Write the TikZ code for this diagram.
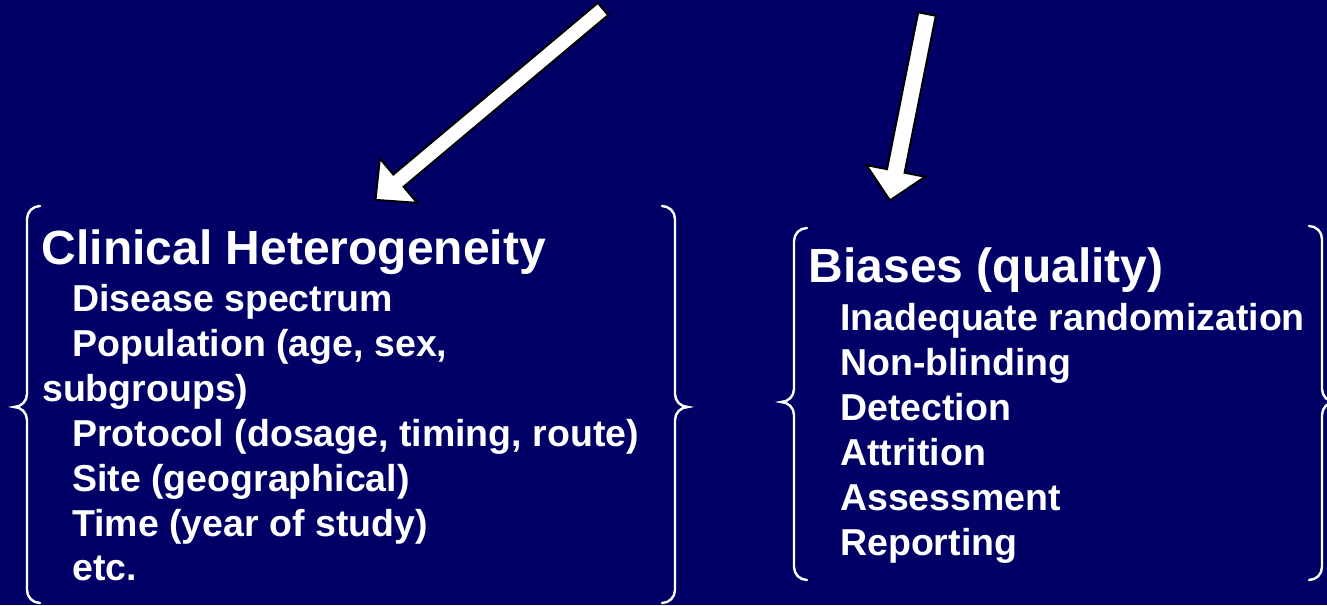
\documentclass[tikz,border=0pt]{standalone}
\usepackage{fontspec}
\setmainfont{Liberation Sans}
\definecolor{slideblue}{RGB}{0,0,102}
\tikzset{head/.style={anchor=base west, inner sep=0pt, text=white,
   font=\fontsize{48}{50}\selectfont\bfseries}}
\tikzset{item/.style={anchor=base west, inner sep=0pt, text=white,
   font=\fontsize{37.5}{40}\selectfont\bfseries}}
\tikzset{curly/.style={white, line width=2.4pt, line cap=round}}
\tikzset{blockarrow/.style={fill=white, draw=black, line width=2pt, line join=miter}}

\begin{document}
\begin{tikzpicture}[x=1pt, y=1pt]

    \fill[slideblue] (0,0) rectangle (1327,-605);
    \useasboundingbox (0,0) rectangle (1327,-605);

    % left block
    \node[head] (clin)  at (41.5,-264)  {Clinical Heterogeneity};
    \node[item] (clin1) at (72,-311.5) {Disease spectrum};
    \node[item] (clin2) at (72,-356.5) {Population (age, sex,};
    \node[item] (clin3) at (42,-401.5) {subgroups)};
    \node[item] (clin4) at (72,-446.5) {Protocol (dosage, timing, route)};
    \node[item] (clin5) at (72,-491.5) {Site (geographical)};
    \node[item] (clin6) at (72,-536.5) {Time (year of study)};
    \node[item] (clin7) at (72,-580.5) {etc.};

    % right block
    \node[head] (bias)  at (808.5,-282) {Biases (quality)};
    \node[item] (bias1) at (840,-330.5) {Inadequate randomization};
    \node[item] (bias2) at (840,-375.5) {Non-blinding};
    \node[item] (bias3) at (840,-420.5) {Detection};
    \node[item] (bias4) at (840,-465.5) {Attrition};
    \node[item] (bias5) at (840,-510.5) {Assessment};
    \node[item] (bias6) at (840,-555.5) {Reporting};

    % braces
    \draw[curly] (40,-206) to[out=180,in=90] (27,-219) -- (27,-394)
       to[out=-90,in=0] (14,-407) to[out=0,in=90] (27,-420) -- (27,-590)
       to[out=-90,in=180] (40,-603);
    \draw[curly] (662,-206) to[out=0,in=90] (675,-219) -- (675,-394)
       to[out=-90,in=180] (688,-407) to[out=180,in=90] (675,-420) -- (675,-590)
       to[out=-90,in=0] (662,-603);
    \draw[curly] (807,-228) to[out=180,in=90] (794,-241) -- (794,-389)
       to[out=-90,in=0] (781,-402) to[out=0,in=90] (794,-415) -- (794,-567)
       to[out=-90,in=180] (807,-580);
    \draw[curly] (1309,-226) to[out=0,in=90] (1322,-239) -- (1322,-389)
       to[out=-90,in=180] (1335,-402) to[out=180,in=90] (1322,-415) -- (1322,-567)
       to[out=-90,in=0] (1309,-580);

    % arrows
    \coordinate (tailA) at (603,-9);
    \coordinate (tailB) at (927,-14);
    \draw[blockarrow, shift={(tailA)}, rotate=220]
       (0,-8) -- (267,-8) -- (267,-29) -- (297,0) -- (267,29) -- (267,8) -- (0,8) -- cycle;
    \draw[blockarrow, shift={(tailB)}, rotate=258.75]
       (0,-9) -- (160,-9) -- (160,-30) -- (190,0) -- (160,30) -- (160,9) -- (0,9) -- cycle;

  \end{tikzpicture}
\end{document}
